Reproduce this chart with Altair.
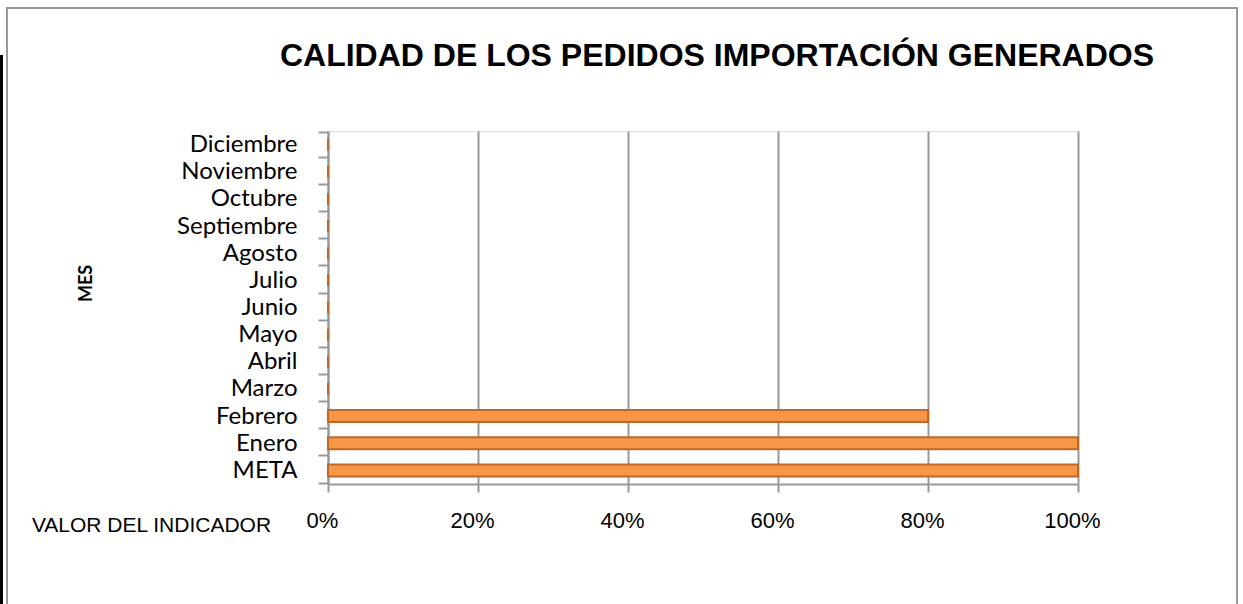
import altair as alt
import pandas as pd

months = ["META", "Enero", "Febrero", "Marzo", "Abril", "Mayo", "Junio", "Julio",
          "Agosto", "Septiembre", "Octubre", "Noviembre", "Diciembre"]
values = [1.0, 1.0, 0.8, 0, 0, 0, 0, 0, 0, 0, 0, 0, 0]
x_ticks = [0, 0.2, 0.4, 0.6, 0.8, 1.0]

df = pd.DataFrame({"mes": months, "valor": values})
order = list(reversed(months))

W, H = 750, 353
L, T = 328, 131

bars = alt.Chart(df).mark_bar(
    color="#F79646", stroke="#B9692C", strokeWidth=2, height=12
).encode(
    x=alt.X("valor:Q", scale=alt.Scale(domain=[0, 1], nice=False),
            axis=alt.Axis(values=x_ticks, format=".0%", title="VALOR DEL INDICADOR",
                          grid=True, gridColor="#999999", gridWidth=2,
                          domainColor="#999999", domainWidth=2,
                          tickColor="#999999", tickWidth=2, tickSize=8,
                          labelFont="Liberation Sans", labelFontSize=22, labelColor="#000000",
                          labelFlush=False, labelPadding=18, labelOffset=-6,
                          titleFont="Liberation Sans", titleFontSize=21, titleFontWeight="normal",
                          titleColor="#000000", titleX=-177, titleY=41,
                          titleAlign="center", titleBaseline="middle")),
    y=alt.Y("mes:N", sort=order,
            axis=alt.Axis(title="MES", grid=False,
                          domainColor="#999999", domainWidth=2,
                          tickColor="#999999", tickWidth=2, tickSize=10, tickBand="extent",
                          labelFont="Lato", labelFontSize=24, labelColor="#000000",
                          labelPadding=21,
                          titleFont="Lato", titleFontSize=18, titleFontWeight="bold",
                          titleColor="#000000", titleX=-242, titleY=152, titleAngle=270,
                          titleAlign="center", titleBaseline="middle")),
)

frame_df = pd.DataFrame({"k": [0]})
frame = alt.Chart(frame_df).mark_rect(fill=None, stroke="#999999", strokeWidth=2).encode(
    x=alt.value(7 - L), x2=alt.value(1237 - L),
    y=alt.value(8 - T), y2=alt.value(640 - T),
)
blackline = alt.Chart(frame_df).mark_rule(color="#000000", strokeWidth=3).encode(
    x=alt.value(1.5 - L), y=alt.value(55 - T), y2=alt.value(640 - T),
)

chart = alt.layer(frame, blackline, bars).properties(
    width=W, height=H,
    title=alt.TitleParams("CALIDAD DE LOS PEDIDOS IMPORTACIÓN GENERADOS",
                          font="Liberation Sans", fontSize=32, fontWeight="bold",
                          color="#000000", anchor="middle", dx=14, offset=-91,
                          frame="group", baseline="alphabetic"),
    autosize=alt.AutoSizeParams(type="none"),
    padding={"left": L, "top": T, "right": 1243 - L - W, "bottom": 604 - T - H},
).configure_view(stroke=None).configure(background="white")

chart.save("out.html", embed_options={"renderer": "svg", "actions": False})
